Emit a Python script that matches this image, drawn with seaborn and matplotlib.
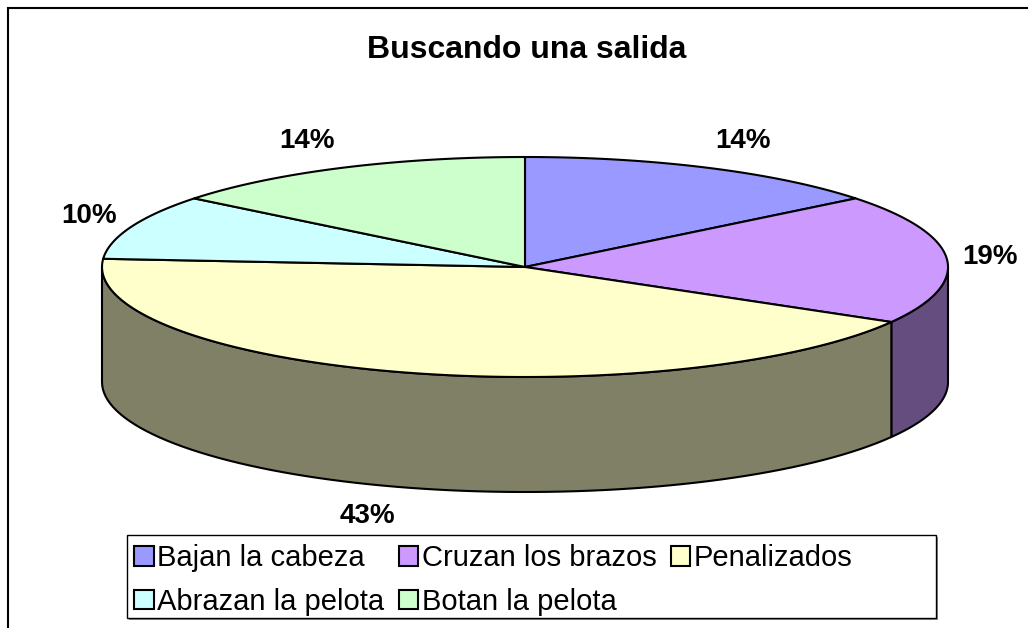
import numpy as np
import matplotlib.pyplot as plt
import seaborn as sns
from matplotlib.patches import Polygon, Patch, Rectangle

categories = ["Bajan la cabeza", "Cruzan los brazos", "Penalizados",
              "Abrazan la pelota", "Botan la pelota"]
counts = [3, 4, 9, 2, 3]
colors = ["#9999FF", "#CC99FF", "#FFFFCC", "#CCFFFF", "#CCFFCC"]
title = "Buscando una salida"

sns.set_style("white")
plt.rcParams["font.family"] = ["Liberation Sans", "DejaVu Sans"]
plt.rcParams["text.color"] = "black"

W, H = 1028, 628
fig = plt.figure(figsize=(W / 100, H / 100), dpi=100)
ax = fig.add_axes([0, 0, 1, 1])

# pie geometry (pixel based layout)
scale = 423
cx, cy = 525, 267
ax.set_xlim(-cx / scale, (W - cx) / scale)
ax.set_ylim(-(H - cy) / scale, cy / scale)
ax.axis("off")
tilt = 110 / 423
depth = 115 / 423

shares = np.array(counts) / np.sum(counts)
ends = 90 - 360 * np.cumsum(shares)
starts = np.r_[90, ends[:-1]]

def shade(c, f=0.5):
    r, g, b = [int(c[i:i + 2], 16) / 255 for i in (1, 3, 5)]
    return (r * f, g * f, b * f)

# side walls (front half only)
for t1, t2, col in zip(starts, ends, colors):
    lo, hi = max(t2, -180), min(t1, 0)
    if lo >= hi:
        continue
    t = np.radians(np.linspace(hi, lo, 80))
    top = np.c_[np.cos(t), tilt * np.sin(t)]
    bot = np.c_[np.cos(t), tilt * np.sin(t) - depth][::-1]
    ax.add_patch(Polygon(np.r_[top, bot], closed=True, facecolor=shade(col),
                         edgecolor="black", lw=1.5, joinstyle="round", zorder=1))

# top face
for t1, t2, col in zip(starts, ends, colors):
    t = np.radians(np.linspace(t1, t2, 120))
    pts = np.r_[[[0, 0]], np.c_[np.cos(t), tilt * np.sin(t)]]
    ax.add_patch(Polygon(pts, closed=True, facecolor=col, edgecolor="black",
                         lw=1.5, joinstyle="round", zorder=2))

# percentage labels
for t1, t2, s in zip(starts, ends, shares):
    m = np.radians((t1 + t2) / 2)
    ex, ey = np.cos(m), tilt * np.sin(m)
    if np.sin(m) < 0:
        ey -= depth
    dx = 28 * np.sign(np.cos(m)) + 15 * np.cos(m)
    dy = 30 * np.sin(m)
    ax.annotate(f"{round(s * 100)}%", xy=(ex, ey), xytext=(dx * 0.72, dy * 0.72),
                textcoords="offset points", ha="center", va="center",
                fontsize=20, fontweight="bold", zorder=3)

fig.text(527 / W, 1 - 50 / H, title, ha="center", va="center",
         fontsize=23, fontweight="bold")

# outer chart frame
fig.patches.append(Rectangle((8 / W, -0.1), 1.2, 1.1 - 8 / H,
                             transform=fig.transFigure, fill=False,
                             edgecolor="black", lw=1.5))

# legend box with a small shadow, Excel style
lx0, lx1, ly0, ly1 = 127, 936, 535, 618
fig.patches.append(Rectangle(((lx0 + 2) / W, 1 - (ly1 + 2) / H), (lx1 - lx0) / W,
                             (ly1 - ly0) / H, transform=fig.transFigure,
                             facecolor="#888888", edgecolor="none"))
fig.patches.append(Rectangle((lx0 / W, 1 - ly1 / H), (lx1 - lx0) / W,
                             (ly1 - ly0) / H, transform=fig.transFigure,
                             facecolor="white", edgecolor="black", lw=1.0))

order = [0, 3, 1, 4, 2]
handles = [Patch(facecolor=colors[i], edgecolor="black", lw=1.5) for i in order]
labels = [categories[i] for i in order]
leg = fig.legend(handles, labels, ncol=3, loc="center left",
                 bbox_to_anchor=(lx0 / W, 1 - 580 / H), fontsize=21,
                 frameon=False, handlelength=0.66, handleheight=0.66,
                 handletextpad=0.12, columnspacing=0.5, labelspacing=0.52,
                 borderpad=0.25, borderaxespad=0)

fig.savefig("out.png", dpi=100)
